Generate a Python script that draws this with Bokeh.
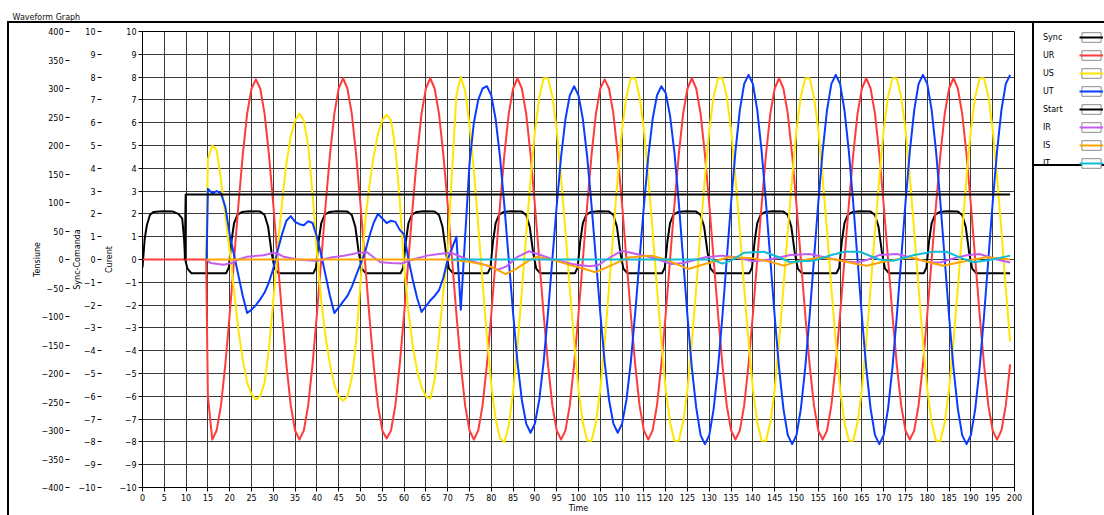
from bokeh.plotting import figure
from bokeh.layouts import row
from bokeh.models import (Range1d, LinearAxis, Legend, LegendItem,
                          SingleIntervalTicker)
from bokeh.embed import file_html
from bokeh.resources import INLINE

# ---------------- data ----------------
# common sampling grid of the three voltages (ms)
time_ms = list(range(15, 200))

ur_lead_t = [0.0, 14.6]
ur_lead = [0.0, 0.0]
ur = [-6.0,
      -7.9, -7.5, -6.4, -4.6, -2.4, 0.0, 2.4, 4.6, 6.4, 7.5, 7.9, 7.5, 6.4, 4.6, 2.4, 0.0, -2.4, -4.6, -6.4, -7.5,
      -7.9, -7.5, -6.4, -4.6, -2.4, 0.0, 2.4, 4.6, 6.4, 7.5, 7.95, 7.5, 6.4, 4.6, 2.4, 0.0, -2.4, -4.6, -6.4, -7.5,
      -7.85, -7.5, -6.4, -4.6, -2.4, 0.0, 2.4, 4.6, 6.4, 7.5, 7.95, 7.5, 6.4, 4.6, 2.4, 0.0, -2.4, -4.6, -6.4, -7.5,
      -7.9, -7.5, -6.4, -4.6, -2.4, 0.0, 2.4, 4.6, 6.4, 7.5, 7.95, 7.5, 6.4, 4.6, 2.4, 0.0, -2.4, -4.6, -6.4, -7.5,
      -7.9, -7.5, -6.4, -4.6, -2.4, 0.0, 2.4, 4.6, 6.4, 7.5, 7.9, 7.5, 6.4, 4.6, 2.4, 0.0, -2.4, -4.6, -6.4, -7.5,
      -7.9, -7.5, -6.4, -4.6, -2.4, 0.0, 2.4, 4.6, 6.4, 7.5, 7.95, 7.5, 6.4, 4.6, 2.4, 0.0, -2.4, -4.6, -6.4, -7.5,
      -7.9, -7.5, -6.4, -4.6, -2.4, 0.0, 2.4, 4.6, 6.4, 7.5, 7.95, 7.5, 6.4, 4.6, 2.4, 0.0, -2.4, -4.6, -6.4, -7.5,
      -7.9, -7.5, -6.4, -4.6, -2.4, 0.0, 2.4, 4.6, 6.4, 7.5, 7.95, 7.5, 6.4, 4.6, 2.4, 0.0, -2.4, -4.6, -6.4, -7.5,
      -7.9, -7.5, -6.4, -4.6, -2.4, 0.0, 2.4, 4.6, 6.4, 7.5, 7.95, 7.5, 6.4, 4.6, 2.4, 0.0, -2.4, -4.6, -6.4, -7.5,
      -7.9, -7.5, -6.4, -4.6]

us_lead_t = [14.6]
us_lead = [0.0]
us = [4.4, 5.0, 4.8, 3.5, 1.9, 0.4, -1.4, -3.1, -4.4, -5.4, -5.9, -6.15, -6.0, -5.4, -3.9, -1.8, 0.4, 2.5, 4.2, 5.4, 6.1,
      6.4, 6.1, 5.0, 2.9, 0.3, -1.8, -3.4, -4.6, -5.5, -6.0, -6.2, -6.0, -5.2, -3.6, -1.0, 1.5, 3.2, 4.5, 5.5, 6.1,
      6.35, 6.1, 4.9, 2.6, -0.3, -2.3, -3.8, -4.9, -5.6, -6.0, -6.1, -5.3, -3.4, -1.4, 0.3, 3.9, 7.2, 8.0, 7.4, 5.9,
      3.9, 1.5, -1.0, -3.4, -5.5, -7.0, -7.85, -8.0, -7.3, -5.8, -3.8, -1.4, 1.1, 3.5, 5.6, 7.1,
      7.95, 7.95, 7.15, 5.7, 3.6, 1.25, -1.25, -3.6, -5.7, -7.15, -7.95, -7.95, -7.15, -5.7, -3.6, -1.25, 1.25, 3.6, 5.7, 7.15,
      7.95, 7.95, 7.15, 5.7, 3.6, 1.25, -1.25, -3.6, -5.7, -7.15, -7.95, -7.95, -7.15, -5.7, -3.6, -1.25, 1.25, 3.6, 5.7, 7.15,
      7.95, 7.95, 7.15, 5.7, 3.6, 1.25, -1.25, -3.6, -5.7, -7.15, -7.95, -7.95, -7.15, -5.7, -3.6, -1.25, 1.25, 3.6, 5.7, 7.15,
      7.95, 7.95, 7.15, 5.7, 3.6, 1.25, -1.25, -3.6, -5.7, -7.15, -7.95, -7.95, -7.15, -5.7, -3.6, -1.25, 1.25, 3.6, 5.7, 7.15,
      7.95, 7.95, 7.15, 5.7, 3.6, 1.25, -1.25, -3.6, -5.7, -7.15, -7.95, -7.95, -7.15, -5.7, -3.6, -1.25, 1.25, 3.6, 5.7, 7.15,
      7.95, 7.95, 7.15, 5.7, 3.6, 1.25, -1.25, -3.6]

ut_lead_t = [14.7]
ut_lead = [0.0]
ut = [3.1, 2.9, 3.0, 2.9, 2.3, 1.1, 0.2, -0.7, -1.6, -2.35, -2.2, -2.0, -1.75, -1.45, -1.0, -0.4, 0.4, 1.1, 1.7, 1.9, 1.65,
      1.55, 1.5, 1.68, 1.6, 1.0, 0.2, -0.7, -1.6, -2.35, -2.1, -1.85, -1.6, -1.2, -0.7, -0.2, 0.3, 1.0, 1.6, 2.0, 1.8,
      1.6, 1.7, 1.65, 1.3, 1.1, 0.0, -0.9, -1.7, -2.3, -2.05, -1.8, -1.6, -1.35, -0.8, 0.0, 0.5, 1.0, -2.2, 1.0, 4.2,
      6.0, 7.0, 7.5, 7.6,
      7.2, 6.15, 4.5, 2.35, 0.0, -2.35, -4.5, -6.15, -7.2, -7.6, -7.2, -6.15, -4.5, -2.35, 0.0, 2.35, 4.5, 6.15, 7.2, 7.6,
      7.2, 6.15, 4.5, 2.35, 0.0, -2.35, -4.5, -6.15, -7.2, -7.6, -7.2, -6.15, -4.5, -2.35, 0.0, 2.35, 4.5, 6.15, 7.2, 7.6,
      7.3, 6.3, 4.7, 2.5, 0.0, -2.5, -4.75, -6.5, -7.7, -8.1, -7.7, -6.55, -4.75, -2.5, 0.0, 2.5, 4.75, 6.55, 7.7, 8.1,
      7.7, 6.55, 4.75, 2.5, 0.0, -2.5, -4.75, -6.55, -7.7, -8.1, -7.7, -6.55, -4.75, -2.5, 0.0, 2.5, 4.75, 6.55, 7.7, 8.1,
      7.7, 6.55, 4.75, 2.5, 0.0, -2.5, -4.75, -6.55, -7.7, -8.1, -7.7, -6.55, -4.75, -2.5, 0.0, 2.5, 4.75, 6.55, 7.7, 8.1,
      7.7, 6.55, 4.75, 2.5, 0.0, -2.5, -4.75, -6.55, -7.7, -8.1, -7.7, -6.55, -4.75, -2.5, 0.0, 2.5, 4.75, 6.55, 7.7, 8.1]

sync_t = [0.0, 0.5, 1.0, 1.7, 2.5, 4.5, 7.0, 8.2, 9.1, 9.5, 9.8, 10.3, 11.2,
          19.2, 19.8, 20.4, 21.0, 21.8, 22.8, 24.5, 27.0, 28.0, 28.8, 29.6, 30.3, 31.2,
          39.2, 39.8, 40.4, 41.0, 41.8, 42.8, 44.5, 47.0, 48.0, 48.8, 49.6, 50.3, 51.2,
          59.2, 59.8, 60.4, 61.0, 61.8, 62.8, 64.5, 67.0, 68.0, 68.8, 69.6, 70.3, 71.2,
          79.2, 79.8, 80.4, 81.0, 81.8, 82.8, 84.5, 87.0, 88.0, 88.8, 89.6, 90.3, 91.2,
          99.2, 99.8, 100.4, 101.0, 101.8, 102.8, 104.5, 107.0, 108.0, 108.8, 109.6, 110.3, 111.2,
          119.2, 119.8, 120.4, 121.0, 121.8, 122.8, 124.5, 127.0, 128.0, 128.8, 129.6, 130.3, 131.2,
          139.2, 139.8, 140.4, 141.0, 141.8, 142.8, 144.5, 147.0, 148.0, 148.8, 149.6, 150.3, 151.2,
          159.2, 159.8, 160.4, 161.0, 161.8, 162.8, 164.5, 167.0, 168.0, 168.8, 169.6, 170.3, 171.2,
          179.2, 179.8, 180.4, 181.0, 181.8, 182.8, 184.5, 187.0, 188.0, 188.8, 189.6, 190.3, 191.2,
          199.0]
sync_v = [-0.35, 0.9, 1.5, 1.95, 2.08, 2.12, 2.1, 2.0, 1.8, 1.0, 0.0, -0.4, -0.6,
          -0.6, -0.35, 0.8, 1.6, 1.97, 2.08, 2.12, 2.1, 1.95, 1.45, 0.3, -0.4, -0.6,
          -0.6, -0.35, 0.8, 1.6, 1.97, 2.08, 2.12, 2.1, 1.95, 1.45, 0.3, -0.4, -0.6,
          -0.6, -0.35, 0.8, 1.6, 1.97, 2.08, 2.12, 2.1, 1.95, 1.45, 0.3, -0.4, -0.6,
          -0.6, -0.35, 0.8, 1.6, 1.97, 2.08, 2.12, 2.1, 1.95, 1.45, 0.3, -0.4, -0.6,
          -0.6, -0.35, 0.8, 1.6, 1.97, 2.08, 2.12, 2.1, 1.95, 1.45, 0.3, -0.4, -0.6,
          -0.6, -0.35, 0.8, 1.6, 1.97, 2.08, 2.12, 2.1, 1.95, 1.45, 0.3, -0.4, -0.6,
          -0.6, -0.35, 0.8, 1.6, 1.97, 2.08, 2.12, 2.1, 1.95, 1.45, 0.3, -0.4, -0.6,
          -0.6, -0.35, 0.8, 1.6, 1.97, 2.08, 2.12, 2.1, 1.95, 1.45, 0.3, -0.4, -0.6,
          -0.6, -0.35, 0.8, 1.6, 1.97, 2.08, 2.12, 2.1, 1.95, 1.45, 0.3, -0.4, -0.6,
          -0.6]

start_t = [9.7, 9.9, 199.0]
start_v = [0.0, 2.85, 2.85]

ir_t = [14.7, 15.6, 18.6, 20.5, 22.0, 24.0, 27.8, 30.1, 31.3, 32.4, 35.5, 39.3, 41.0, 43.1, 46.2,
        49.2, 51.5, 53.0, 54.6, 57.0, 59.6, 62.0, 65.3, 68.0, 70.7, 73.0, 75.3, 79.0, 81.5, 83.5,
        85.9, 88.6, 91.0, 93.9, 98.5, 102.5, 104.5, 106.4, 109.9, 113.0, 116.8, 121.4, 124.0, 129.1, 133.0,
        136.0, 140.0, 144.0, 148.6, 153.0, 157.0, 160.0, 163.8, 166.5, 169.1, 173.0, 177.0, 180.6, 183.0, 186.0,
        189.0, 192.0, 196.0, 199.0]
ir_v = [0.0, -0.15, -0.23, -0.15, 0.0, 0.12, 0.19, 0.3, 0.23, 0.12, 0.0, -0.05, -0.03, 0.09, 0.16,
        0.28, 0.32, 0.1, -0.12, -0.15, -0.17, 0.0, 0.17, 0.24, 0.3, 0.12, -0.05, -0.27, -0.45, -0.3,
        0.1, 0.36, 0.22, 0.02, -0.2, -0.3, -0.25, 0.0, 0.38, 0.25, 0.09, -0.2, -0.15, 0.1, 0.17,
        0.1, -0.08, 0.0, 0.2, 0.24, 0.08, -0.05, -0.13, 0.0, 0.2, 0.24, 0.05, -0.13, -0.13, 0.05,
        0.19, 0.24, 0.0, -0.13]

is_t = [14.7, 70.5, 75.0, 79.5, 83.3, 85.6, 88.6, 90.5, 94.7, 98.5, 101.5, 103.9, 107.0, 111.5, 116.8,
        120.0, 125.2, 129.0, 134.4, 140.0, 144.0, 147.1, 150.8, 155.4, 159.0, 163.8, 166.1, 170.0, 173.7, 176.0,
        180.0, 183.6, 188.0, 193.5, 199.0]
is_v = [0.0, 0.0, -0.1, -0.28, -0.64, -0.42, -0.05, 0.12, -0.05, -0.27, -0.42, -0.56, -0.3, 0.09, 0.17,
        0.0, -0.42, -0.2, 0.1, 0.05, -0.1, -0.27, -0.05, 0.09, 0.0, -0.2, -0.27, -0.1, 0.02, 0.1,
        -0.1, -0.27, -0.1, 0.1, 0.0]

it_t = [71.0, 130.6, 133.0, 135.0, 138.0, 142.5, 146.0, 148.6, 151.0, 154.0, 158.0, 161.0, 164.5, 169.0, 172.2,
        177.0, 181.3, 184.4, 188.0, 190.5, 195.0, 199.0]
it_v = [0.0, 0.0, -0.18, -0.05, 0.3, 0.34, 0.1, -0.12, -0.08, -0.05, 0.2, 0.34, 0.34, 0.0, -0.06,
        0.2, 0.34, 0.34, 0.05, -0.12, 0.0, 0.17]

names = ["Sync", "UR", "US", "UT", "Start", "IR", "IS", "IT"]
colors = ["#000000", "#FF3C3C", "#FFE600", "#0A3CFF", "#000000", "#C45CF2", "#FFA500", "#12BCD8"]

# ---------------- main graph ----------------
FONT = "DejaVu Sans"
FS = "8px"

p = figure(width=1034, height=515, x_range=Range1d(0, 200), y_range=Range1d(-10, 10),
           output_backend="svg", toolbar_location=None,
           min_border_left=142, min_border_right=20, min_border_top=30, min_border_bottom=27,
           title="Waveform Graph")
p.extra_y_ranges = {"sync": Range1d(-10, 10), "tens": Range1d(-400, 400)}
p.background_fill_color = "white"
p.border_fill_color = "white"
p.border_fill_alpha = 0.0
p.outline_line_color = "black"
p.outline_line_width = 1
# outer panel frame (left, top and the separator before the legend)
p.styles = {"background": "linear-gradient(#000,#000) 7px 21px / 2px 494px no-repeat, "
                          "linear-gradient(#000,#000) 7px 21px / 1027px 2px no-repeat, "
                          "linear-gradient(#000,#000) 1032px 21px / 2px 494px no-repeat, #ffffff"}

p.title.text_font = FONT
p.title.text_font_size = FS
p.title.text_font_style = "normal"
p.title.text_color = "#111111"
p.title.align = "left"
p.title.offset = -130
p.title.standoff = 20

xt = SingleIntervalTicker(interval=5, num_minor_ticks=0)
yt = SingleIntervalTicker(interval=1, num_minor_ticks=0)
p.xaxis.ticker = xt
p.xgrid.ticker = xt
cur_axis = p.yaxis[0]
cur_axis.ticker = yt
p.ygrid.ticker = yt
for g in (p.xgrid[0], p.ygrid[0]):
    g.grid_line_color = "#3a3a3a"
    g.grid_line_width = 1

cur_axis.axis_label = "Curent"
p.xaxis.axis_label = "Time"

sync_axis = LinearAxis(y_range_name="sync", axis_label="Sync-Comanda",
                       ticker=SingleIntervalTicker(interval=1, num_minor_ticks=0))
tens_axis = LinearAxis(y_range_name="tens", axis_label="Tensiune",
                       ticker=SingleIntervalTicker(interval=50, num_minor_ticks=0))
p.add_layout(sync_axis, "left")
p.add_layout(tens_axis, "left")

for ax in (p.xaxis[0], cur_axis, sync_axis, tens_axis):
    ax.major_label_text_font = FONT
    ax.major_label_text_font_size = FS
    ax.major_label_text_color = "#000000"
    ax.axis_label_text_font = FONT
    ax.axis_label_text_font_size = FS
    ax.axis_label_text_font_style = "normal"
    ax.axis_label_text_color = "#000000"
    ax.major_tick_in = 0
    ax.major_tick_out = 4
    ax.major_tick_line_color = "#000000"
    ax.minor_tick_out = 0
    ax.minor_tick_in = 0
    ax.major_label_standoff = 2

p.xaxis[0].axis_label_standoff = 0
p.xaxis[0].axis_line_color = "black"
cur_axis.axis_line_color = "black"
cur_axis.axis_label_standoff = 3
sync_axis.axis_line_color = None
sync_axis.axis_label_standoff = -6
tens_axis.axis_line_color = None
tens_axis.axis_label_standoff = -3

series = [
    (sync_t, sync_v, "sync"),
    (ur_lead_t + time_ms, ur_lead + ur, "default"),
    (us_lead_t + time_ms, us_lead + us, "default"),
    (ut_lead_t + time_ms, ut_lead + ut, "default"),
    (start_t, start_v, "sync"),
    (ir_t, ir_v, "default"),
    (is_t, is_v, "default"),
    (it_t, it_v, "default"),
]
for (xs, ys, rng), col in zip(series, colors):
    p.line(xs, ys, line_color=col, line_width=2, line_join="round", y_range_name=rng)

# ---------------- legend panel beside the graph ----------------
# its view range lies outside the data, so its renderers only feed the legend
pl = figure(width=70, height=515, x_range=Range1d(1000, 1001), y_range=Range1d(1000, 1001),
            output_backend="svg", toolbar_location=None,
            x_axis_location=None, y_axis_location=None,
            min_border_left=0, min_border_right=0, min_border_top=12, min_border_bottom=0)
pl.grid.visible = False
pl.outline_line_color = None
pl.background_fill_alpha = 0.0
pl.border_fill_alpha = 0.0
pl.styles = {"background": "linear-gradient(#000,#000) 0px 21px / 70px 2px no-repeat, "
                           "linear-gradient(#000,#000) 0px 164px / 70px 2px no-repeat, #ffffff"}
label_items = []
swatch_items = []
for (xs, ys, rng), name, col in zip(series, names, colors):
    hidden = pl.line(xs, ys, line_alpha=0.0)
    label_items.append(LegendItem(label=name, renderers=[hidden]))
    box = pl.quad(left=xs[:1], right=xs[1:2], bottom=ys[:1], top=ys[1:2],
                  fill_color="white", line_color="#8c8c8c", line_width=1)
    ln = pl.line(xs, ys, line_color=col, line_width=2)
    swatch_items.append(LegendItem(label=" ", renderers=[box, ln]))

common = dict(margin=0, padding=3, spacing=6, glyph_height=12, label_height=12,
              label_text_font=FONT, label_text_font_size=FS, label_text_color="#000000",
              border_line_color=None, background_fill_alpha=0.0)
legend_labels = Legend(items=label_items, location="top_left", glyph_width=0,
                       label_standoff=9, label_width=28, **common)
legend_swatches = Legend(items=swatch_items, location="top_right", glyph_width=24,
                         label_standoff=0, label_width=1, **common)
pl.add_layout(legend_labels, "center")
pl.add_layout(legend_swatches, "center")

open("out.html", "w").write(file_html(row(p, pl), INLINE))
